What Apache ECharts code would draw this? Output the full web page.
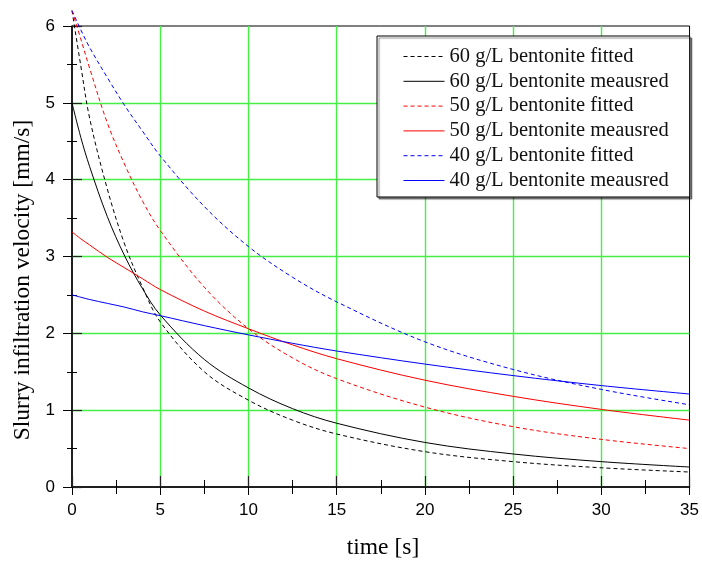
<!DOCTYPE html>
<html>
<head>
<meta charset="utf-8">
<script src="https://cdn.jsdelivr.net/npm/echarts@6/dist/echarts.min.js"></script>
<style>html,body{margin:0;padding:0;background:#fff;}#c{width:702px;height:562px;}</style>
</head>
<body>
<div id="c"></div>
<script>
const times = [0, 0.5, 1, 2, 3, 4, 5, 7.5, 10, 12.5, 15, 20, 25, 30, 35];
const fit60  = [6.2, 5.48, 4.8, 3.88, 3.15, 2.6, 2.15, 1.5, 1.13, 0.87, 0.69, 0.46, 0.33, 0.25, 0.195];
const meas60 = [5.0, 4.55, 4.17, 3.52, 3.0, 2.58, 2.24, 1.66, 1.29, 1.02, 0.83, 0.58, 0.43, 0.33, 0.26];
const fit50  = [6.2, 5.83, 5.45, 4.74, 4.19, 3.72, 3.34, 2.6, 2.06, 1.68, 1.41, 1.04, 0.785, 0.62, 0.50];
const meas50 = [3.32, 3.23, 3.15, 2.99, 2.85, 2.71, 2.57, 2.29, 2.06, 1.85, 1.67, 1.39, 1.18, 1.01, 0.87];
const fit40  = [6.2, 5.95, 5.72, 5.33, 4.96, 4.63, 4.31, 3.65, 3.13, 2.73, 2.41, 1.89, 1.53, 1.27, 1.07];
const meas40 = [2.5, 2.47, 2.44, 2.39, 2.34, 2.28, 2.23, 2.1, 1.98, 1.87, 1.77, 1.6, 1.45, 1.32, 1.21];
const seriesNames = ['60 g/L bentonite fitted','60 g/L bentonite meausred','50 g/L bentonite fitted','50 g/L bentonite meausred','40 g/L bentonite fitted','40 g/L bentonite meausred'];
const xTicks = [0, 5, 10, 15, 20, 25, 30, 35];
const yTicks = [0, 1, 2, 3, 4, 5, 6];

const pair = arr => times.map((t, i) => [t, arr[i]]);
const defs = [
  [fit60, '#000000', [4, 3]],
  [meas60, '#000000', 'solid'],
  [fit50, '#ff0000', [4, 3]],
  [meas50, '#ff0000', 'solid'],
  [fit40, '#0000ff', [4, 3]],
  [meas40, '#0000ff', 'solid']
];
const series = defs.map((d, i) => ({
  name: seriesNames[i], type: 'line', data: pair(d[0]), smooth: 0.35,
  symbol: 'none', showSymbol: false, clip: false, xAxisIndex: 0, yAxisIndex: 0,
  itemStyle: {color: d[1]},
  lineStyle: {color: d[1], width: 1, type: d[2]}
}));

const gridLine = '#44f044';
const chart = echarts.init(document.getElementById('c'), null, {renderer: 'canvas'});
chart.setOption({
  animation: false,
  backgroundColor: '#fff',
  grid: {left: 72, right: 8.5, top: 26, bottom: 75, show: true, borderColor: '#000', borderWidth: 1},
  xAxis: [{
    type: 'value', min: xTicks[0], max: xTicks[xTicks.length - 1], interval: 5, position: 'bottom',
    axisLine: {onZero: false, lineStyle: {color: '#000', width: 1.5}},
    axisTick: {length: 8, lineStyle: {color: '#000', width: 1}},
    minorTick: {show: true, splitNumber: 2, length: 7, lineStyle: {color: '#000', width: 1}},
    splitLine: {show: true, showMinLine: false, showMaxLine: false, lineStyle: {color: gridLine, width: 1.4}},
    axisLabel: {color: '#000', fontFamily: 'Liberation Sans', fontSize: 17, margin: 15}
  }, {
    type: 'value', min: xTicks[0], max: xTicks[xTicks.length - 1], interval: 5, position: 'bottom',
    axisLine: {show: false, onZero: false},
    axisTick: {inside: true, length: 11, lineStyle: {color: '#222', width: 1.2}},
    minorTick: {show: true, splitNumber: 2, length: 7, lineStyle: {color: '#000', width: 1}},
    splitLine: {show: false}, axisLabel: {show: false}
  }],
  yAxis: [{
    type: 'value', min: yTicks[0], max: yTicks[yTicks.length - 1], interval: 1, position: 'left',
    axisLine: {onZero: false, lineStyle: {color: '#000', width: 1.5}},
    axisTick: {length: 9, lineStyle: {color: '#000', width: 1}},
    minorTick: {show: true, splitNumber: 2, length: 5, lineStyle: {color: '#000', width: 1}},
    splitLine: {show: true, showMinLine: false, showMaxLine: false, lineStyle: {color: gridLine, width: 1.4}},
    axisLabel: {color: '#000', fontFamily: 'Liberation Sans', fontSize: 17, margin: 17}
  }, {
    type: 'value', min: yTicks[0], max: yTicks[yTicks.length - 1], interval: 1, position: 'left',
    axisLine: {show: false, onZero: false},
    axisTick: {inside: true, length: 10, lineStyle: {color: '#222', width: 1.2}},
    minorTick: {show: true, splitNumber: 2, length: 5, lineStyle: {color: '#000', width: 1}},
    splitLine: {show: false}, axisLabel: {show: false}
  }],
  legend: {
    orient: 'vertical', left: 377, top: 36,
    itemWidth: 41, itemHeight: 14, itemGap: 3.8,
    padding: [10, 21, 6, 26],
    borderColor: '#000', borderWidth: 1, backgroundColor: '#fff',
    shadowColor: 'rgba(0,0,0,0.45)', shadowBlur: 1, shadowOffsetX: 2, shadowOffsetY: 2,
    itemStyle: {opacity: 0},
    lineStyle: {width: 1},
    textStyle: {fontFamily: 'Liberation Serif', fontSize: 20.5, color: '#111', lineHeight: 20},
    data: seriesNames
  },
  graphic: [
    {type: 'text', x: 383, y: 548, style: {text: 'time [s]', fontFamily: 'Liberation Serif', fontSize: 23.5, fill: '#000', align: 'center', verticalAlign: 'middle'}},
    {type: 'text', x: 23, y: 280, rotation: Math.PI / 2, style: {text: 'Slurry infiltration velocity [mm/s]', fontFamily: 'Liberation Serif', fontSize: 23.5, fill: '#000', align: 'center', verticalAlign: 'middle'}}
  ],
  series: series
});
</script>
</body>
</html>
